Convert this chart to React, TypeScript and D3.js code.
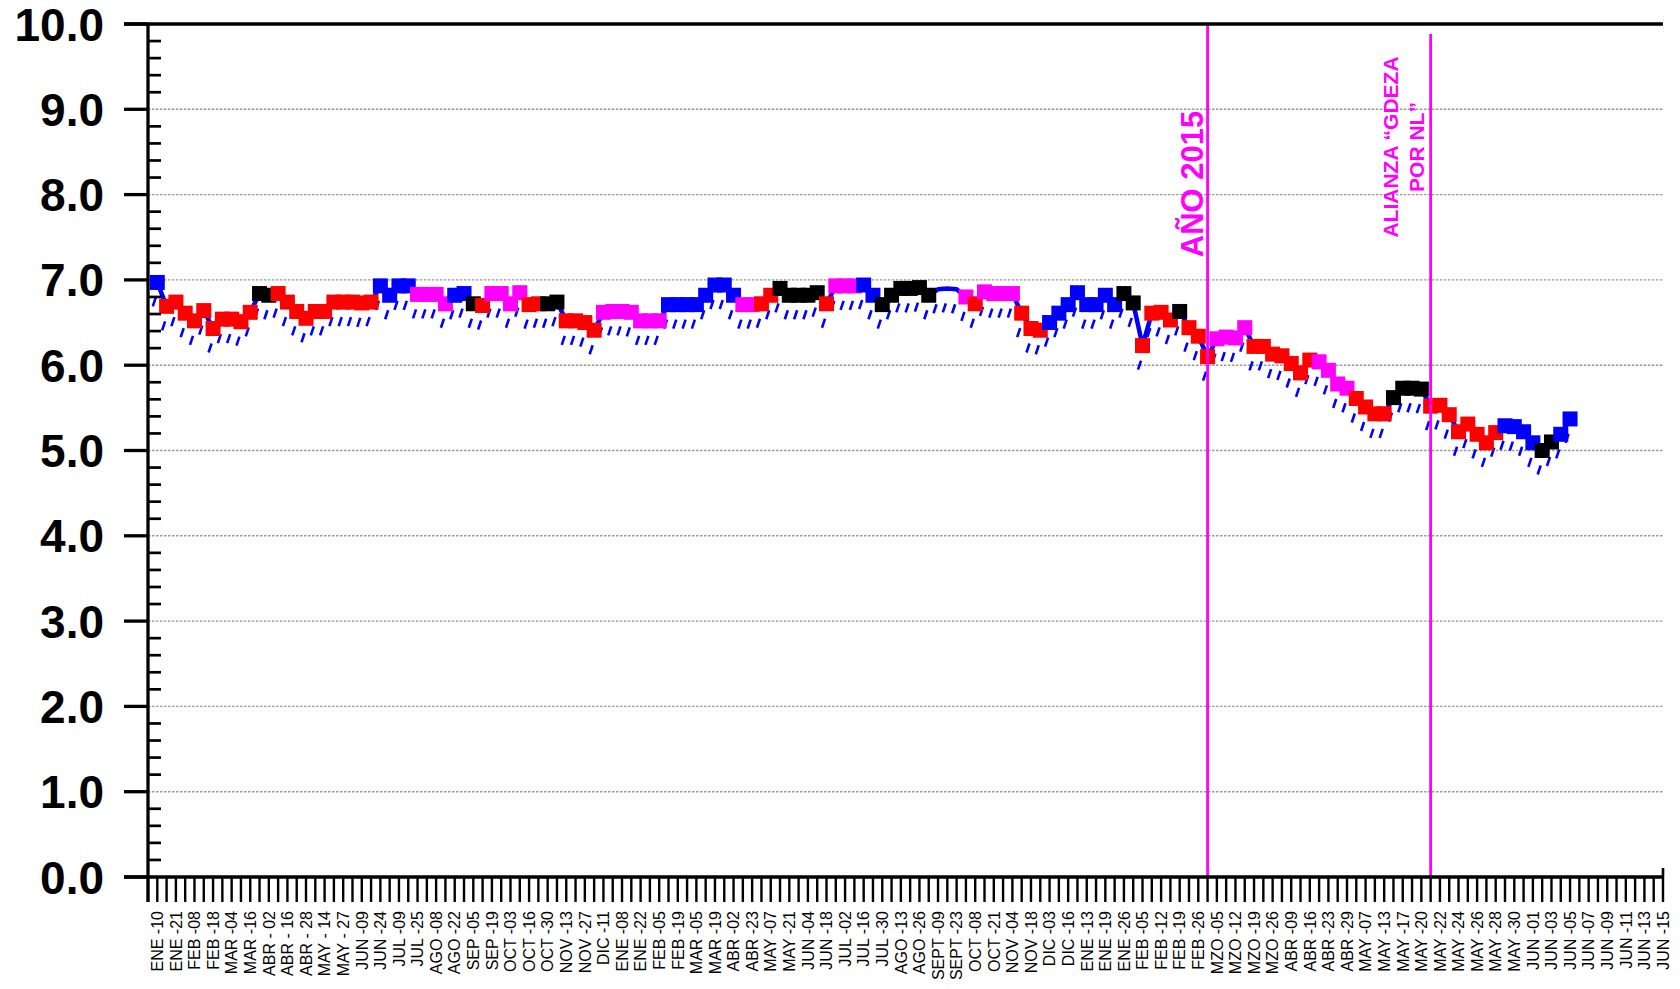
import React from "react";
import * as d3 from "d3";

const xLabels: string[] = [
  "ENE -10", "ENE -21", "FEB -08", "FEB -18", "MAR -04", "MAR -16", "ABR - 02", "ABR - 16", "ABR - 28", "MAY - 14",
  "MAY - 27", "JUN -09", "JUN -24", "JUL -09", "JUL -25", "AGO -08", "AGO -22", "SEP -05", "SEP -19", "OCT -03",
  "OCT -16", "OCT -30", "NOV -13", "NOV -27", "DIC -11", "ENE -08", "ENE -22", "FEB -05", "FEB -19", "MAR -05",
  "MAR -19", "ABR -02", "ABR -23", "MAY -07", "MAY -21", "JUN -04", "JUN -18", "JUL -02", "JUL -16", "JUL -30",
  "AGO -13", "AGO -26", "SEPT -09", "SEPT -23", "OCT -08", "OCT -21", "NOV -04", "NOV -18", "DIC -03", "DIC -16",
  "ENE -13", "ENE -19", "ENE -26", "FEB -05", "FEB -12", "FEB -19", "FEB -26", "MZO -05", "MZO -12", "MZO -19",
  "MZO -26", "ABR -09", "ABR -16", "ABR -23", "ABR -29", "MAY -07", "MAY -13", "MAY -17", "MAY -20", "MAY -22",
  "MAY -24", "MAY -26", "MAY -28", "MAY -30", "JUN -01", "JUN -03", "JUN -05", "JUN -07", "JUN -09", "JUN -11",
  "JUN -13", "JUN -15",
];

// one value per weekly/daily step (ticks 1..153)
const values: number[] = [
  6.97, 6.69, 6.74, 6.61, 6.52, 6.64, 6.43, 6.54, 6.54, 6.51,
  6.62, 6.84, 6.82, 6.84, 6.74, 6.63, 6.55, 6.63, 6.63, 6.74,
  6.74, 6.74, 6.73, 6.74, 6.93, 6.82, 6.93, 6.93, 6.83, 6.83,
  6.83, 6.72, 6.82, 6.84, 6.72, 6.70, 6.84, 6.84, 6.72, 6.85,
  6.71, 6.72, 6.72, 6.74, 6.52, 6.52, 6.50, 6.41, 6.62, 6.63,
  6.63, 6.62, 6.52, 6.52, 6.52, 6.71, 6.71, 6.71, 6.71, 6.82,
  6.94, 6.94, 6.82, 6.71, 6.71, 6.72, 6.82, 6.90, 6.82, 6.82,
  6.82, 6.85, 6.72, 6.93, 6.93, 6.93, 6.94, 6.82, 6.71, 6.82,
  6.90, 6.90, 6.91, 6.82, 6.89, 6.90, 6.89, 6.80, 6.72, 6.86,
  6.84, 6.84, 6.84, 6.61, 6.43, 6.41, 6.50, 6.61, 6.71, 6.85,
  6.71, 6.71, 6.82, 6.71, 6.84, 6.73, 6.23, 6.61, 6.62, 6.53,
  6.63, 6.44, 6.34, 6.10, 6.31, 6.33, 6.32, 6.44, 6.22, 6.22,
  6.13, 6.11, 6.02, 5.91, 6.06, 6.04, 5.94, 5.78, 5.73, 5.61,
  5.51, 5.43, 5.43, 5.62, 5.73, 5.73, 5.72, 5.52, 5.53, 5.42,
  5.22, 5.31, 5.19, 5.09, 5.21, 5.29, 5.28, 5.22, 5.09, 5.00,
  5.10, 5.19, 5.37,
];

// marker colour codes: b blue, r red, k black, m magenta, n none
const markerCodes: string[] = (
  "b r r r r r r r r r " +
  "r k k r r r r r r r " +
  "r r r r b b b b m m " +
  "m m b b k r m m m m " +
  "r r k k r r r r m m " +
  "m m m m m b b b b b " +
  "b b b m m r r k k k " +
  "k k r m m m b b k k " +
  "k k k k n n n m r m " +
  "m m m r r r b b b b " +
  "b b b b k k r r r r " +
  "k r r r m m m m r r " +
  "r r r r r m m m m r " +
  "r r r k k k k r r r " +
  "r r r r r b b b b k " +
  "k b b"
).trim().split(/\s+/);

const yTickValues: number[] = [0, 1, 2, 3, 4, 5, 6, 7, 8, 9, 10];
const eventTicks: number[] = [114, 138];

const colorMap: Record<string, string | null> = {
  b: "#0000ff",
  r: "#ff0000",
  k: "#000000",
  m: "#ff00ff",
  n: null,
};

const FONT = "'Liberation Sans', Arial, Helvetica, sans-serif";

export default function App() {
  const W = 1680;
  const H = 989;
  const nTicks = 163;
  const x = d3.scaleLinear().domain([0, nTicks]).range([148, 1663]);
  const y = d3.scaleLinear().domain([0, 10]).range([877, 24]);

  const pts = values.map((v, i) => ({ t: i + 1, v, c: colorMap[markerCodes[i]] ?? null }));
  const line = d3
    .line<{ t: number; v: number }>()
    .x((d) => x(d.t))
    .y((d) => y(d.v));

  const minorTicks: number[] = [];
  for (let k = 0; k < 50; k++) {
    if (k % 5 !== 0) minorTicks.push(k * 0.2);
  }
  const allTicks = d3.range(0, nTicks + 1);
  const sq = 15;

  return (
    <div style={{ position: "absolute", left: 0, top: 0 }}>
      <svg width={W} height={H} style={{ display: "block", background: "#fff" }}>
        {/* gridlines */}
        {yTickValues
          .filter((v) => v > 0 && v < 10)
          .map((v) => (
            <line
              key={"g" + v}
              x1={x(0)}
              x2={x(nTicks)}
              y1={y(v)}
              y2={y(v)}
              stroke="#9a9a9a"
              strokeWidth={1.4}
              strokeDasharray="2.5 1.5"
            />
          ))}

        {/* shadow slashes */}
        {pts.map((p, i) => (
          <line
            key={"s" + i}
            x1={x(p.t) - 4.5}
            y1={y(p.v) + 24}
            x2={x(p.t) - 1.5}
            y2={y(p.v) + 15}
            stroke="#0000ff"
            strokeWidth={2.6}
          />
        ))}

        {/* connecting line */}
        <path d={line(pts) || ""} fill="none" stroke="#0000ff" strokeWidth={4.5} strokeLinejoin="round" />

        {/* markers */}
        {pts.map((p, i) =>
          p.c ? (
            <rect
              key={"m" + i}
              x={x(p.t) - sq / 2}
              y={y(p.v) - sq / 2}
              width={sq}
              height={sq}
              fill={p.c}
            />
          ) : null
        )}

        {/* event lines */}
        <line x1={x(eventTicks[0])} x2={x(eventTicks[0])} y1={y(10)} y2={y(0)} stroke="#ff00ff" strokeWidth={2.8} />
        <line x1={x(eventTicks[1])} x2={x(eventTicks[1])} y1={y(10) + 10} y2={y(0)} stroke="#ff00ff" strokeWidth={2.8} />
        <text
          transform={`translate(${x(eventTicks[0]) - 5},184) rotate(-90)`}
          textAnchor="middle"
          fontFamily={FONT}
          fontWeight="bold"
          fontSize={31}
          fill="#ff00ff"
        >
          AÑO 2015
        </text>
        <text
          transform={`translate(${x(eventTicks[1]) - 33},147) rotate(-90)`}
          textAnchor="middle"
          fontFamily={FONT}
          fontWeight="bold"
          fontSize={21}
          fill="#ff00ff"
        >
          ALIANZA “GDEZA
        </text>
        <text
          transform={`translate(${x(eventTicks[1]) - 7},147) rotate(-90)`}
          textAnchor="middle"
          fontFamily={FONT}
          fontWeight="bold"
          fontSize={21}
          fill="#ff00ff"
        >
          POR NL”
        </text>

        {/* axes frame */}
        <line x1={124} x2={x(nTicks)} y1={y(10)} y2={y(10)} stroke="#000" strokeWidth={3.3} />
        <line x1={124} x2={x(nTicks)} y1={y(0)} y2={y(0)} stroke="#000" strokeWidth={3.3} />
        <line x1={x(0)} x2={x(0)} y1={y(10)} y2={902} stroke="#000" strokeWidth={3.3} />
        <line x1={x(nTicks)} x2={x(nTicks)} y1={y(0) - 9} y2={y(0)} stroke="#000" strokeWidth={2.6} />

        {/* y major ticks & labels */}
        {yTickValues.map((v) => (
          <g key={"y" + v}>
            <line x1={124} x2={x(0)} y1={y(v)} y2={y(v)} stroke="#000" strokeWidth={3.3} />
            <text
              x={104}
              y={y(v)}
              dy="0.36em"
              textAnchor="end"
              fontFamily={FONT}
              fontWeight="bold"
              fontSize={46}
              fill="#000"
            >
              {v.toFixed(1)}
            </text>
          </g>
        ))}
        {minorTicks.map((v) => (
          <line key={"mn" + v} x1={x(0)} x2={161} y1={y(v)} y2={y(v)} stroke="#000" strokeWidth={2.7} />
        ))}

        {/* x ticks */}
        {allTicks.map((t) => (
          <line key={"xt" + t} x1={x(t)} x2={x(t)} y1={y(0)} y2={902} stroke="#000" strokeWidth={2.4} />
        ))}
        {xLabels.map((lab, k) => (
          <text
            key={"xl" + k}
            transform={`translate(${x(2 * k + 1)},911) rotate(-90)`}
            dy="0.36em"
            textAnchor="end"
            fontFamily={FONT}
            fontSize={16}
            fill="#000"
          >
            {lab}
          </text>
        ))}
      </svg>
    </div>
  );
}
